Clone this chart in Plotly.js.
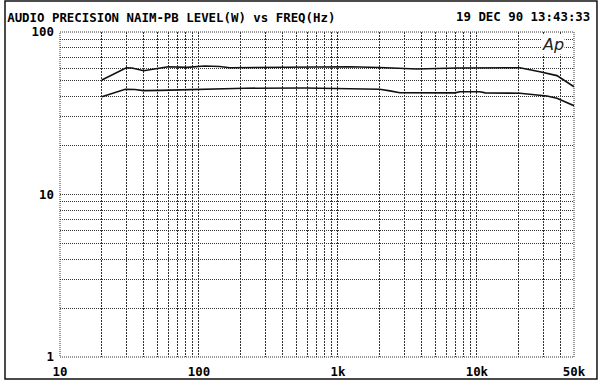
<!DOCTYPE html>
<html>
<head>
<meta charset="utf-8">
<script src="https://cdn.plot.ly/plotly-3.0.1.min.js"></script>
<style>html,body{margin:0;padding:0;background:#fff;}#chart{width:600px;height:390px;}</style>
</head>
<body>
<div id="chart"></div>
<script>
// Upper curve (W) vs frequency (Hz)
var upperFreq = [20, 30, 33, 40, 60, 82, 110, 141, 167, 402, 1220, 2000, 3700, 7180, 10500, 20400, 28400, 31900, 37700, 50000];
var upperLevel = [50.7, 60.3, 60.0, 57.8, 61.1, 60.6, 61.8, 61.3, 60.3, 60.5, 61.1, 60.5, 59.2, 60.0, 60.3, 60.3, 57.0, 55.7, 53.9, 46.0];
// Lower curve (W) vs frequency (Hz)
var lowerFreq = [20, 29.5, 34.6, 40, 52.4, 101.7, 214, 580, 2000, 2370, 2790, 6950, 7550, 10500, 11500, 20400, 28400, 31900, 37700, 50000];
var lowerLevel = [40.0, 44.4, 44.3, 43.6, 43.7, 44.2, 45.1, 45.2, 44.4, 43.4, 42.3, 42.2, 42.9, 42.9, 42.2, 42.0, 40.9, 40.4, 39.1, 35.2];

var xGrid = [10,20,30,40,50,60,70,80,90,100,200,300,400,500,600,700,800,900,1000,2000,3000,4000,5000,6000,7000,8000,9000,10000,20000,30000,40000,50000];
var xLabelMap = {10:'10',100:'100',1000:'1k',10000:'10k',50000:'50k'};
var xText = xGrid.map(function(v){return xLabelMap[v]||'';});
var yGrid = [1,2,3,4,5,6,7,8,9,10,20,30,40,50,60,70,80,90,100];
var yLabelMap = {1:'1',10:'10',100:'100'};
var yText = yGrid.map(function(v){return yLabelMap[v]||'';});

var titleText = 'AUDIO PRECISION NAIM-PB LEVEL(W) vs FREQ(Hz)';
var dateText = '19 DEC 90 13:43:33';

var font = {family:'DejaVu Sans Mono, monospace', size:12.4, color:'#000', weight:'bold'};

var traces = [
  {x: upperFreq, y: upperLevel, mode:'lines', line:{color:'#111', width:1.6}, hoverinfo:'skip', showlegend:false},
  {x: lowerFreq, y: lowerLevel, mode:'lines', line:{color:'#111', width:1.6}, hoverinfo:'skip', showlegend:false}
];

var layout = {
  width:600, height:390,
  margin:{l:60, r:26, t:32, b:33, pad:0},
  paper_bgcolor:'#fff', plot_bgcolor:'#fff',
  font: font,
  title:{text:titleText, font:font, x:0.012, xanchor:'left', xref:'container', y:0.956, yanchor:'middle', yref:'container'},
  xaxis:{type:'log', range:[1, Math.log10(50000)], tickmode:'array', tickvals:xGrid, ticktext:xText,
         showgrid:true, gridcolor:'#333', gridwidth:1, griddash:'2px,1px', zeroline:false, showline:false,
         ticks:'', tickfont:font, ticklabelstandoff:6, fixedrange:true},
  yaxis:{type:'log', range:[0, 2], tickmode:'array', tickvals:yGrid, ticktext:yText,
         showgrid:true, gridcolor:'#333', gridwidth:1, griddash:'1px,1px', zeroline:false, showline:false,
         ticks:'', tickfont:font, ticklabelstandoff:5, fixedrange:true},
  annotations:[
    {text:dateText, xref:'paper', yref:'paper', x:1.0355, xanchor:'right', y:1.0477, yanchor:'middle', showarrow:false, font:font},
    {text:'<i>Ap</i>', xref:'paper', yref:'paper', x:0.96, xanchor:'center', y:0.962, yanchor:'middle', showarrow:false,
     font:{family:'DejaVu Sans, sans-serif', size:16, color:'#222', weight:'normal'}, bgcolor:'#fff', borderpad:0}
  ],
  shapes:[
    {type:'rect', xref:'paper', yref:'paper', x0:0, x1:1, y0:0, y1:1, line:{color:'#333', width:1, dash:'1px,1px'}, fillcolor:'rgba(0,0,0,0)'},
    {type:'rect', xref:'paper', yref:'paper', x0:-0.107, x1:1.0447, y0:-0.0677, y1:1.0954, line:{color:'#111', width:1.5}, fillcolor:'rgba(0,0,0,0)'}
  ]
};

Plotly.newPlot('chart', traces, layout, {staticPlot:true, displayModeBar:false});
</script>
</body>
</html>
